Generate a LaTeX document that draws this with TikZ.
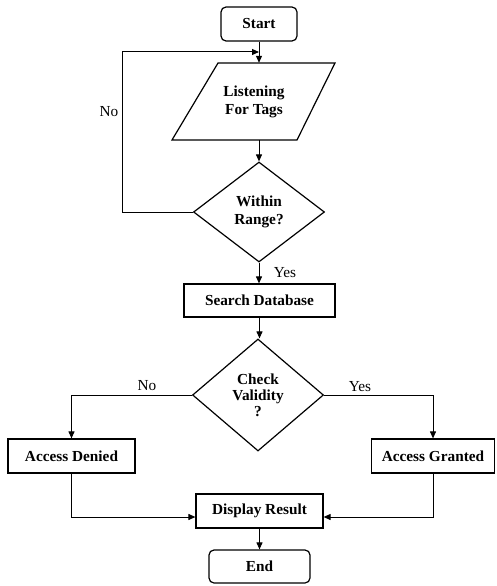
\documentclass[tikz,border=0pt]{standalone}
\usepackage{fontspec}
\setmainfont{Liberation Serif}
\usetikzlibrary{shapes.geometric,arrows.meta,calc}
\begin{document}
\begin{tikzpicture}[x=1pt,y=-1pt,
  font=\fontsize{15.3}{18}\selectfont\bfseries,
  box/.style={draw, line width=1.2pt, inner sep=0pt, align=center},
  term/.style={box, rounded corners=5pt},
  dec/.style={draw, diamond, line width=1.2pt, inner sep=0pt, align=center, aspect=1.2},
  conn/.style={line width=1pt, -{Triangle[length=7pt,width=6pt]}},
  lab/.style={font=\fontsize{15.3}{18}\selectfont\mdseries}
]
\useasboundingbox (0,0) rectangle (496,586);
\fill[white] (0,0) rectangle (496,586);

\node[term, minimum width=76pt, minimum height=34pt] (start) at (259,24) {Start};
\draw[line width=1.2pt] (218,63) -- (335,63) -- (297,140) -- (172,140) -- cycle;
\node[align=center, minimum height=77pt, inner sep=0pt] (listen) at (254,101.5) {Listening\\For Tags};
\node[dec, minimum width=131pt, minimum height=100pt] (within) at (259,212) {Within\\Range?};
\node[box, minimum width=151pt, minimum height=33pt] (search) at (259.5,300.5) {Search Database};
\node[dec, minimum width=131pt, minimum height=112pt] (check) at (258,395) {Check\\[-2pt]Validity\\[-2pt]?};
\node[box, minimum width=127pt, minimum height=34pt] (denied) at (71.5,456) {Access Denied};
\node[box, minimum width=123pt, minimum height=34pt] (granted) at (433,456) {Access Granted};
\node[box, minimum width=127pt, minimum height=34pt] (display) at (259.5,511) {Display Result};
\node[term, minimum width=101pt, minimum height=33pt] (end) at (259.5,566.5) {End};

\coordinate (loopL) at (122,52);

\draw[conn] (start.south) -- (start.south |- listen.north);
\draw[conn] (within.north |- listen.south) -- (within.north);
\draw[conn] (within.west) -| (loopL) -- (loopL -| start.south);
\draw[conn] (within.south) -- (within.south |- search.north);
\draw[conn] (search.south) -- (search.south |- check.north);
\draw[conn] (check.west) -| (denied.north);
\draw[conn] (check.east) -| (granted.north);
\draw[conn] (denied.south) |- ($(display.west)+(0,6)$);
\draw[conn] (granted.south) |- ($(display.east)+(0,6)$);
\draw[conn] (display.south) -- (display.south |- end.north);

\node[lab] (no1) at (109,112) {No};
\node[lab] (yes1) at (285,273) {Yes};
\node[lab] (no2) at (147,386) {No};
\node[lab] (yes2) at (360,387) {Yes};
\end{tikzpicture}
\end{document}
